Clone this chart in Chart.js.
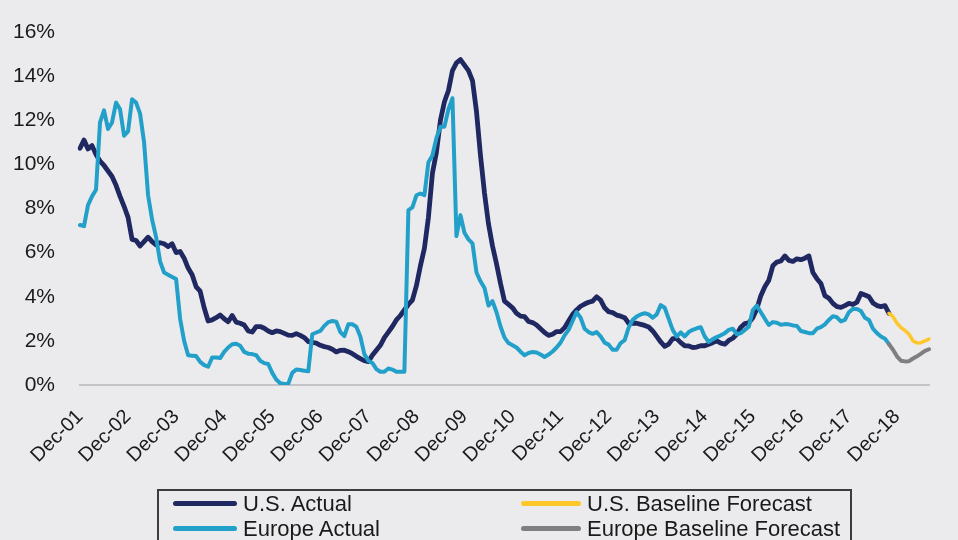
<!DOCTYPE html>
<html>
<head>
<meta charset="utf-8">
<script src="https://cdn.jsdelivr.net/npm/chart.js@4.4.1/dist/chart.umd.min.js"></script>
<style>
  body { margin: 0; background: #ffffff; }
  #quadro { position: relative; width: 958px; height: 540px; background: #ebebed; overflow: hidden; }
  #grafico { position: absolute; left: 0; top: 0; }
  .legenda { position: absolute; left: 157px; top: 489px; width: 695px; height: 80px;
             border: 2px solid #3c3c3c; box-sizing: border-box; }
  .item { position: absolute; display: flex; align-items: center; height: 25px;
          font-family: "Liberation Sans", Arial, sans-serif;
          font-size: 22px; color: #1a1a1a; white-space: nowrap; }
  .item span.traco { display: inline-block; height: 5px; border-radius: 3px; margin-right: 6px; }
</style>
</head>
<body>
<div id="quadro">
  <canvas id="grafico" width="958" height="540"></canvas>
  <div class="legenda">
    <div class="item" style="left:14px; top:0px;"><span class="traco" style="width:64px; background:#1f2861;"></span>U.S. Actual</div>
    <div class="item" style="left:362px; top:0px;"><span class="traco" style="width:60px; background:#fec82c;"></span>U.S. Baseline Forecast</div>
    <div class="item" style="left:14px; top:25px;"><span class="traco" style="width:64px; background:#22a0c9;"></span>Europe Actual</div>
    <div class="item" style="left:362px; top:25px;"><span class="traco" style="width:60px; background:#7f7f7f;"></span>Europe Baseline Forecast</div>
  </div>
</div>

<script>
// meses de Dec-01 ate Aug-19
let nomesMeses = ['Jan', 'Feb', 'Mar', 'Apr', 'May', 'Jun', 'Jul', 'Aug', 'Sep', 'Oct', 'Nov', 'Dec'];
let anos = ['01', '02', '03', '04', '05', '06', '07', '08', '09', '10', '11', '12', '13', '14', '15', '16', '17', '18', '19'];

// U.S. Actual (Dec-01 .. Oct-18)
let usActual = [
    10.73, 11.1, 10.7, 10.85, 10.45, 10.15, 9.95, 9.7, 9.45, 9.05, 8.55, 8.1,
    7.6, 6.6, 6.55, 6.3, 6.5, 6.7, 6.5, 6.35, 6.45, 6.4, 6.27, 6.4,
    6.0, 6.05, 5.75, 5.3, 5.0, 4.45, 4.25, 3.5, 2.9, 2.95, 3.05, 3.17,
    3.0, 2.87, 3.15, 2.85, 2.8, 2.72, 2.45, 2.4, 2.65, 2.65, 2.57, 2.45,
    2.37, 2.45, 2.42, 2.34, 2.26, 2.25, 2.33, 2.25, 2.15, 1.97, 1.93, 1.9,
    1.8, 1.74, 1.7, 1.62, 1.5, 1.57, 1.58, 1.51, 1.42, 1.3, 1.2, 1.1,
    1.06, 1.35, 1.58, 1.8, 2.15, 2.4, 2.65, 2.95, 3.15, 3.4, 3.65, 3.85,
    4.5, 5.4, 6.2, 7.6, 9.6, 10.55, 12.0, 12.84, 13.35, 14.25, 14.6, 14.75,
    14.5, 14.25, 13.8, 12.4, 10.4, 8.7, 7.3, 6.3, 5.5, 4.6, 3.8, 3.65,
    3.5, 3.25, 3.12, 3.1, 2.88, 2.83, 2.72, 2.55, 2.38, 2.25, 2.3, 2.42,
    2.42, 2.6, 2.9, 3.2, 3.4, 3.57, 3.67, 3.75, 3.8, 4.0, 3.85, 3.5,
    3.32, 3.28, 3.17, 3.12, 3.05, 2.8, 2.8, 2.8, 2.75, 2.7, 2.63, 2.45,
    2.2, 1.95, 1.75, 1.85, 2.1, 2.1, 1.92, 1.78, 1.77, 1.7, 1.72, 1.78,
    1.78, 1.85, 1.92, 2.0, 1.9, 1.85, 2.02, 2.12, 2.3, 2.62, 2.78, 2.82,
    3.05, 3.45, 4.05, 4.45, 4.75, 5.4, 5.57, 5.62, 5.85, 5.65, 5.6, 5.72,
    5.68, 5.75, 5.85, 5.1, 4.82, 4.6, 4.05, 3.93, 3.7, 3.55, 3.52, 3.6,
    3.7, 3.65, 3.75, 4.15, 4.08, 4.0, 3.72, 3.6, 3.55, 3.6, 3.25
];

// Europe Actual (Dec-01 .. Oct-18)
let europeActual = [
    7.25, 7.2, 8.15, 8.55, 8.85, 11.9, 12.45, 11.6, 11.9, 12.8, 12.5, 11.3,
    11.5, 12.95, 12.8, 12.3, 11.0, 8.6, 7.5, 6.7, 5.6, 5.1, 5.0, 4.9,
    4.8, 3.0, 2.0, 1.35, 1.33, 1.31, 1.05, 0.9, 0.83, 1.25, 1.25, 1.22,
    1.5, 1.7, 1.85, 1.87, 1.78, 1.5, 1.42, 1.4, 1.35, 1.1, 0.99, 0.95,
    0.55, 0.25, 0.08, 0.05, 0.05, 0.55, 0.7, 0.68, 0.65, 0.62, 2.3, 2.38,
    2.45, 2.68, 2.85, 2.9, 2.87, 2.4, 2.22, 2.75, 2.75, 2.64, 2.2, 1.4,
    1.1, 1.0, 0.72, 0.6, 0.6, 0.75, 0.7, 0.6, 0.6, 0.6, 7.93, 8.05,
    8.6, 8.68, 8.6, 10.1, 10.4, 11.2, 11.7, 11.71, 12.5, 13.0, 6.75, 7.7,
    6.9, 6.6, 6.42, 5.1, 4.7, 4.4, 3.6, 3.8, 3.3, 2.65, 2.15, 1.9,
    1.8, 1.7, 1.51, 1.35, 1.45, 1.5, 1.47, 1.38, 1.27, 1.38, 1.52, 1.7,
    1.92, 2.25, 2.5, 2.9, 3.3, 3.05, 2.55, 2.4, 2.32, 2.4, 2.2, 1.92,
    1.83, 1.6, 1.6, 1.9, 2.03, 2.6, 2.95, 3.1, 3.2, 3.25, 3.2, 3.05,
    3.2, 3.62, 3.5, 3.0, 2.5, 2.2, 2.38, 2.2, 2.4, 2.5, 2.57, 2.62,
    2.2, 1.95, 2.08, 2.17, 2.25, 2.35, 2.5, 2.55, 2.3, 2.35, 2.5, 2.64,
    3.4, 3.6, 3.3, 3.0, 2.72, 2.85, 2.82, 2.73, 2.76, 2.75, 2.7, 2.68,
    2.45, 2.4, 2.35, 2.35, 2.55, 2.62, 2.75, 2.95, 3.12, 3.07, 2.88, 2.95,
    3.3, 3.45, 3.45, 3.35, 3.05, 2.95, 2.55, 2.35, 2.2, 2.1, 1.85
];

// previsoes (Oct-18 .. Aug-19)
let usForecast = [3.25, 3.1, 2.8, 2.6, 2.47, 2.3, 2.0, 1.9, 1.92, 2.0, 2.08];
let europeForecast = [1.85, 1.6, 1.3, 1.1, 1.07, 1.08, 1.2, 1.3, 1.42, 1.55, 1.62];

let yTicks = [0, 2, 4, 6, 8, 10, 12, 14, 16];

let labels = [];
labels.push('Dec-' + anos[0]);
for (let a = 1; a < anos.length; a++) {
    for (let m = 0; m < 12; m++) {
        labels.push(nomesMeses[m] + '-' + anos[a]);
        if (a == anos.length - 1 && m == 7) break;
    }
}

let inicioPrevisao = usActual.length - 1;

function completar(valores, inicio) {
    let saida = [];
    for (let i = 0; i < labels.length; i++) {
        let j = i - inicio;
        saida.push(j >= 0 && j < valores.length ? valores[j] : null);
    }
    return saida;
}

function serie(nome, valores, inicio, cor, largura) {
    return {
        label: nome,
        data: completar(valores, inicio),
        borderColor: cor,
        backgroundColor: cor,
        borderWidth: largura,
        pointRadius: 0,
        tension: 0,
        borderJoinStyle: 'round',
        borderCapStyle: 'round',
        spanGaps: false
    };
}

let config = {
    type: 'line',
    data: {
        labels: labels,
        datasets: [
            serie('U.S. Baseline Forecast', usForecast, inicioPrevisao, '#fec82c', 3.5),
            serie('Europe Baseline Forecast', europeForecast, inicioPrevisao, '#7f7f7f', 4),
            serie('Europe Actual', europeActual, 0, '#22a0c9', 4),
            serie('U.S. Actual', usActual, 0, '#1f2861', 4.8)
        ]
    },
    options: {
        responsive: false,
        animation: false,
        layout: { padding: { top: 32, right: 22, left: 0, bottom: 0 } },
        plugins: {
            legend: { display: false },
            tooltip: { enabled: false }
        },
        scales: {
            x: {
                type: 'category',
                offset: false,
                grid: { display: false },
                border: { display: true, color: '#c4c4c6', width: 2 },
                afterFit: function (escala) { escala.height = 155; },
                ticks: {
                    autoSkip: false,
                    maxRotation: 45,
                    minRotation: 45,
                    padding: 12,
                    color: '#1a1a1a',
                    font: { family: '"Liberation Sans", Arial, sans-serif', size: 20 },
                    callback: function (valor, indice) {
                        return indice % 12 == 0 ? labels[indice] : '';
                    }
                }
            },
            y: {
                min: 0,
                max: 16,
                grid: { display: false },
                border: { display: false },
                afterFit: function (escala) { escala.width = 80; },
                afterBuildTicks: function (escala) {
                    escala.ticks = yTicks.map(function (v) { return { value: v }; });
                },
                ticks: {
                    padding: 17,
                    color: '#1a1a1a',
                    font: { family: '"Liberation Sans", Arial, sans-serif', size: 21 },
                    callback: function (valor) { return valor + '%'; }
                }
            }
        }
    }
};

let meuGrafico = new Chart(document.getElementById('grafico'), config);
</script>
</body>
</html>
